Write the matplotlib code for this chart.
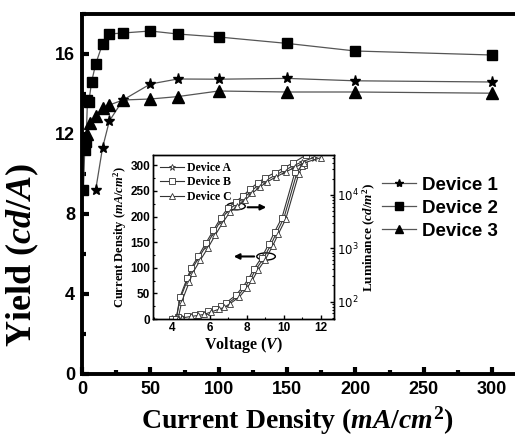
import numpy as np
import matplotlib
matplotlib.use('Agg')
import matplotlib.pyplot as plt
from matplotlib.patches import Ellipse
from matplotlib.ticker import MultipleLocator

plt.rcParams['mathtext.fontset'] = 'custom'
plt.rcParams['mathtext.rm'] = 'Liberation Serif:bold'
plt.rcParams['mathtext.it'] = 'Liberation Serif:bold:italic'
plt.rcParams['mathtext.bf'] = 'Liberation Serif:bold'

# main plot: yield vs current density
x_dev1 = [10, 15, 20, 30, 50, 70, 100, 150, 200, 300]
y_dev1 = [9.2, 11.3, 12.65, 13.7, 14.5, 14.75, 14.74, 14.78, 14.66, 14.6]
x_dev2 = [1, 2, 3, 4, 5, 7, 10, 15, 20, 30, 50, 70, 100, 150, 200, 300]
y_dev2 = [9.2, 11.2, 11.6, 13.7, 13.6, 14.6, 15.5, 16.5, 17.0, 17.05, 17.15, 17.0, 16.85, 16.53, 16.15, 15.95]
x_dev3 = [1, 2, 4, 6, 10, 15, 20, 30, 50, 70, 100, 150, 200, 300]
y_dev3 = [11.3, 11.7, 12.0, 12.55, 12.9, 13.3, 13.45, 13.7, 13.75, 13.87, 14.15, 14.1, 14.1, 14.04]

# inset: current density vs voltage
v_jA = [4.0, 4.4, 4.9, 5.3, 5.6, 6.0, 6.4, 6.7, 7.0, 7.5, 7.9, 8.2, 8.5, 8.9, 9.3, 9.6, 10.0, 10.7, 10.95]
j_A = [0, 3, 6, 8, 10, 15, 20, 24, 31, 44, 62, 78, 97, 118, 145, 168, 197, 285, 300]
v_jB = [4.0, 4.3, 4.8, 5.2, 5.5, 5.9, 6.3, 6.6, 6.9, 7.4, 7.8, 8.1, 8.4, 8.8, 9.2, 9.5, 9.9, 10.6, 11.1]
j_B = [0, 3, 6, 8, 10, 15, 20, 25, 32, 46, 63, 79, 98, 120, 147, 170, 198, 287, 300]
v_jC = [4.1, 4.5, 5.0, 5.4, 5.7, 6.1, 6.5, 6.8, 7.1, 7.6, 8.0, 8.3, 8.6, 9.0, 9.4, 9.7, 10.1, 10.8, 11.0]
j_C = [0, 2, 5, 7, 9, 14, 19, 23, 30, 43, 60, 76, 95, 116, 143, 166, 195, 283, 298]

# inset: luminance vs voltage
v_lA = [4.2, 4.4, 4.8, 5.0, 5.4, 5.8, 6.2, 6.6, 7.0, 7.4, 7.8, 8.2, 8.6, 9.0, 9.5, 10.0, 10.5, 11.0, 11.6]
l_A = [47, 110, 250, 380, 650, 1100, 1900, 3300, 5200, 6600, 8500, 11500, 15000, 18500, 23000, 28500, 35000, 42000, 50000]
v_lB = [4.2, 4.4, 4.8, 5.0, 5.4, 5.8, 6.2, 6.6, 7.0, 7.4, 7.8, 8.2, 8.6, 9.0, 9.5, 10.0, 10.5, 11.2]
l_B = [47, 120, 280, 420, 720, 1250, 2150, 3700, 5800, 7400, 9600, 13000, 17000, 21000, 26000, 32000, 40000, 56000]
v_lC = [4.3, 4.5, 4.9, 5.1, 5.5, 5.9, 6.3, 6.7, 7.1, 7.5, 7.9, 8.3, 8.7, 9.1, 9.6, 10.1, 10.6, 11.1, 12.0]
l_C = [47, 100, 230, 350, 600, 1000, 1750, 3000, 4800, 6100, 7900, 10800, 14000, 17500, 22000, 27000, 33000, 40000, 50000]

fig = plt.figure(figsize=(5.15, 4.38), dpi=100)
ax = fig.add_axes([82/515, 64/438, 437.4/515, 360/438])

line_c = '#555555'
ax.plot(x_dev1, y_dev1, color=line_c, lw=0.9, marker='*', ms=8, mfc='black', mec='black', label='Device 1')
ax.plot(x_dev2, y_dev2, color=line_c, lw=0.9, marker='s', ms=7.8, mfc='black', mec='black', label='Device 2')
ax.plot(x_dev3, y_dev3, color=line_c, lw=0.9, marker='^', ms=8, mfc='black', mec='black', label='Device 3')

ax.set_xlim(0, 320)
ax.set_ylim(0, 18)
ax.xaxis.set_major_locator(MultipleLocator(50))
ax.xaxis.set_minor_locator(MultipleLocator(25))
ax.yaxis.set_major_locator(MultipleLocator(4))
ax.yaxis.set_minor_locator(MultipleLocator(2))
for s in ['left', 'bottom', 'top']:
    ax.spines[s].set_linewidth(2.8)
ax.spines['right'].set_visible(False)
ax.tick_params(which='major', direction='in', length=5, width=3, labelsize=13, pad=5)
ax.tick_params(which='minor', direction='in', length=3, width=3)
for t in ax.get_xticklabels() + ax.get_yticklabels():
    t.set_fontfamily('Liberation Sans')
    t.set_fontweight('bold')

fig.text(22/515, 1 - 255/438, 'Yield ($cd/A$)', rotation=90, ha='center', va='center',
         fontsize=26, fontfamily='Liberation Serif', fontweight='bold')
fig.text(297/515, 1 - 421/438, 'Current Density ($mA/cm^2$)', ha='center', va='center',
         fontsize=20, fontfamily='Liberation Serif', fontweight='bold')

leg = ax.legend(loc='upper left', bbox_to_anchor=(365/515, 1 - 160/438), bbox_transform=fig.transFigure,
                frameon=False, handlelength=1.8, handletextpad=0.35, labelspacing=0.3, markerscale=0.75,
                prop={'family': 'Liberation Sans', 'weight': 'bold', 'size': 13.5})

# inset
ins = fig.add_axes([153/515, 119/438, 181/515, 164/438])
ins2 = ins.twinx()
ic = '#333333'
ins.plot(v_jA, j_A, color=ic, lw=0.8, marker='*', ms=5, mfc='white', mec=ic, mew=0.6, label='Device A')
ins.plot(v_jB, j_B, color=ic, lw=0.8, marker='s', ms=4, mfc='white', mec=ic, mew=0.6, label='Device B')
ins.plot(v_jC, j_C, color=ic, lw=0.8, marker='^', ms=4.5, mfc='white', mec=ic, mew=0.6, label='Device C')
ins2.plot(v_lA, l_A, color=ic, lw=0.8, marker='*', ms=5, mfc='white', mec=ic, mew=0.6)
ins2.plot(v_lB, l_B, color=ic, lw=0.8, marker='s', ms=4, mfc='white', mec=ic, mew=0.6)
ins2.plot(v_lC, l_C, color=ic, lw=0.8, marker='^', ms=4.5, mfc='white', mec=ic, mew=0.6)

ins.set_xlim(2.95, 12.7)
ins.set_ylim(0, 320)
ins2.set_yscale('log')
ins2.set_ylim(47, 56000)
ins.xaxis.set_major_locator(MultipleLocator(2))
ins.xaxis.set_minor_locator(MultipleLocator(1))
ins.yaxis.set_major_locator(MultipleLocator(50))
ins.yaxis.set_minor_locator(MultipleLocator(25))
for a in (ins, ins2):
    for s in a.spines.values():
        s.set_linewidth(1.0)
    a.tick_params(which='major', direction='in', length=3, width=1, labelsize=8.5, pad=2)
    a.tick_params(which='minor', direction='in', length=1.5, width=0.8)
for t in ins.get_xticklabels() + ins.get_yticklabels():
    t.set_fontfamily('Liberation Sans')
    t.set_fontweight('bold')
ins2.tick_params(axis='y', labelsize=8.5)

ins.set_xlabel('Voltage ($V$)', fontsize=11.5, fontfamily='Liberation Serif', fontweight='bold', labelpad=1)
ins.set_ylabel('Current Density ($mA/cm^2$)', fontsize=9, fontfamily='Liberation Serif', fontweight='bold', labelpad=1)
ins2.set_ylabel('Luminance ($cd/m^2$)', fontsize=9.5, fontfamily='Liberation Serif', fontweight='bold', labelpad=2)

ins.legend(loc='upper left', frameon=False, handlelength=2.0, handletextpad=0.3, labelspacing=0.2,
           borderaxespad=0.2, prop={'family': 'Liberation Serif', 'weight': 'bold', 'size': 8.5})

ins.add_patch(Ellipse((7.42, 220), 1.0, 14, fill=False, lw=1, ec='black'))
ins.annotate('', xy=(9.2, 218), xytext=(7.9, 218),
             arrowprops=dict(arrowstyle='-|>', lw=1.5, color='black', mutation_scale=8))
ins.add_patch(Ellipse((9.04, 122), 1.0, 14, fill=False, lw=1, ec='black'))
ins.annotate('', xy=(7.15, 122), xytext=(8.55, 122),
             arrowprops=dict(arrowstyle='-|>', lw=1.5, color='black', mutation_scale=8))

fig.savefig('out.png', dpi=100)
